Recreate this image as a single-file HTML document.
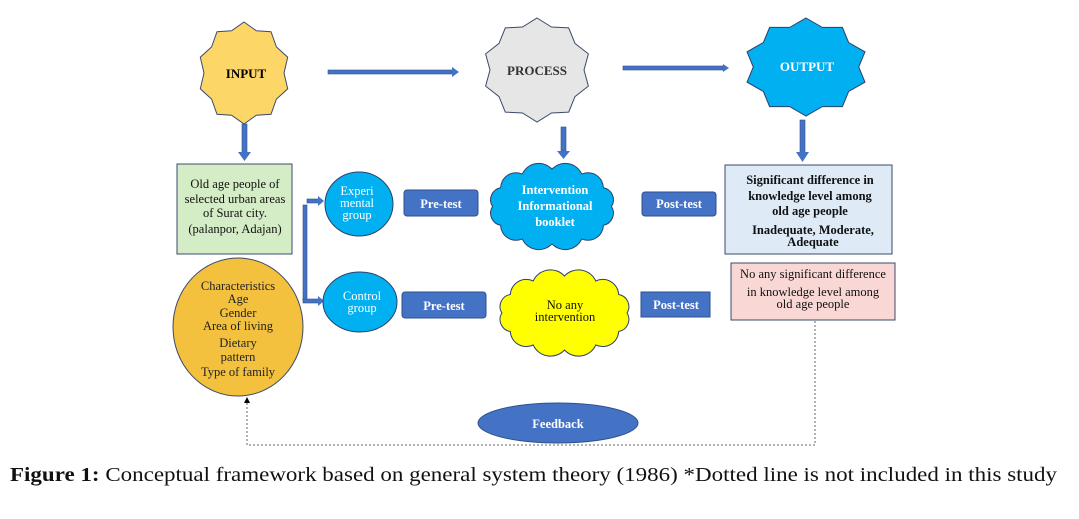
<!DOCTYPE html>
<html><head><meta charset="utf-8"><style>
body{margin:0;background:#fff;}
svg{display:block;}
text{font-family:"Liberation Serif",serif;}
</style></head><body>
<svg id="s" width="1079" height="519" viewBox="0 0 1079 519" xmlns="http://www.w3.org/2000/svg">
<defs>
<marker id="ah" markerWidth="6" markerHeight="6" refX="5" refY="3" orient="auto"><path d="M0,0 L6,3 L0,6 z" fill="#000"/></marker>
</defs>
<polygon id="st1" fill="#fdd668" stroke="#3b4a6b" stroke-width="1"/>
<polygon id="st2" fill="#e6e6e6" stroke="#3b4a6b" stroke-width="1"/>
<polygon id="st3" fill="#00b0f0" stroke="#2f3f6b" stroke-width="1"/>
<text x="246" y="78" text-anchor="middle" font-size="13" font-weight="bold">INPUT</text>
<text x="537" y="75" text-anchor="middle" font-size="13" font-weight="bold" fill="#333">PROCESS</text>
<text x="807" y="71" text-anchor="middle" font-size="13" font-weight="bold" fill="#fff">OUTPUT</text>
<rect x="328" y="70" width="124" height="4" fill="#4472c4" stroke="#2f528f" stroke-width="0.6"/>
<polygon points="452,67 459,72 452,77" fill="#4472c4"/>
<rect x="623" y="66" width="100" height="4" fill="#4472c4" stroke="#2f528f" stroke-width="0.6"/>
<polygon points="723,64 729,68 723,72" fill="#4472c4"/>
<rect x="242" y="124" width="5" height="29" fill="#4472c4" stroke="#2f528f" stroke-width="0.6"/>
<polygon points="238,152 251,152 244.5,161" fill="#4472c4"/>
<rect x="561" y="127" width="5" height="24" fill="#4472c4" stroke="#2f528f" stroke-width="0.6"/>
<polygon points="557,151 570,151 563.5,159" fill="#4472c4"/>
<rect x="800" y="120" width="5" height="33" fill="#4472c4" stroke="#2f528f" stroke-width="0.6"/>
<polygon points="796,152 809,152 802.5,162" fill="#4472c4"/>
<rect x="177" y="164" width="115" height="90" fill="#d4edc6" stroke="#3b4a6b"/>
<g font-size="12.5" text-anchor="middle" fill="#111">
<text x="235" y="188">Old age people of</text>
<text x="235" y="203">selected urban areas</text>
<text x="235" y="217">of Surat city.</text>
<text x="235" y="233">(palanpor, Adajan)</text>
</g>
<rect x="303" y="205" width="4" height="96" fill="#4472c4" stroke="#2f528f" stroke-width="0.6"/>
<rect x="307" y="199" width="12" height="4" fill="#4472c4" stroke="#2f528f" stroke-width="0.6"/>
<polygon points="318,196 324,201 318,206" fill="#4472c4"/>
<rect x="303" y="299" width="16" height="4" fill="#4472c4" stroke="#2f528f" stroke-width="0.6"/>
<polygon points="318,296 324,301 318,306" fill="#4472c4"/>
<ellipse cx="359" cy="204" rx="34" ry="32" fill="#00b0f0" stroke="#2f3f6b"/>
<g font-size="12.5" text-anchor="middle" fill="#fff">
<text x="357" y="195">Experi</text>
<text x="357" y="207">mental</text>
<text x="357" y="219">group</text>
</g>
<rect x="404" y="190" width="74" height="26" rx="3" fill="#4472c4" stroke="#2f528f"/>
<text x="441" y="208" text-anchor="middle" font-size="12.5" font-weight="bold" fill="#fff">Pre-test</text>
<path id="c1" fill="#00b0f0" stroke="#2f3f6b"/>
<g font-size="12.5" font-weight="bold" text-anchor="middle" fill="#fff">
<text x="555" y="194">Intervention</text>
<text x="555" y="210">Informational</text>
<text x="555" y="226">booklet</text>
</g>
<rect x="642" y="192" width="74" height="24" rx="3" fill="#4472c4" stroke="#2f528f"/>
<text x="679" y="208" text-anchor="middle" font-size="12.5" font-weight="bold" fill="#fff">Post-test</text>
<rect x="725" y="165" width="167" height="89" fill="#deebf7" stroke="#3b4a6b"/>
<g font-size="12.5" font-weight="bold" text-anchor="middle" fill="#111">
<text x="810" y="184">Significant difference in</text>
<text x="810" y="200">knowledge level among</text>
<text x="810" y="215">old age people</text>
<text x="813" y="234">Inadequate, Moderate,</text>
<text x="813" y="246">Adequate</text>
</g>
<ellipse cx="360" cy="302" rx="37" ry="30" fill="#00b0f0" stroke="#2f3f6b"/>
<g font-size="12.5" text-anchor="middle" fill="#fff">
<text x="362" y="300">Control</text>
<text x="362" y="312">group</text>
</g>
<rect x="402" y="292" width="84" height="26" rx="3" fill="#4472c4" stroke="#2f528f"/>
<text x="444" y="310" text-anchor="middle" font-size="12.5" font-weight="bold" fill="#fff">Pre-test</text>
<path id="c2" fill="#ffff00" stroke="#2f3f6b"/>
<g font-size="12.5" text-anchor="middle" fill="#111">
<text x="565" y="309">No any</text>
<text x="565" y="321">intervention</text>
</g>
<rect x="641" y="292" width="69" height="25" fill="#4472c4" stroke="#2f528f"/>
<text x="676" y="309" text-anchor="middle" font-size="12.5" font-weight="bold" fill="#fff">Post-test</text>
<rect x="731" y="263" width="164" height="57" fill="#f8d7d5" stroke="#3b4a6b"/>
<g font-size="12.5" text-anchor="middle" fill="#111">
<text x="813" y="278">No any significant difference</text>
<text x="813" y="296">in knowledge level among</text>
<text x="813" y="308">old age people</text>
</g>
<ellipse cx="238" cy="327" rx="65" ry="69" fill="#f4c13e" stroke="#3b4a6b"/>
<g font-size="12.5" text-anchor="middle" fill="#222">
<text x="238" y="290">Characteristics</text>
<text x="238" y="303">Age</text>
<text x="238" y="317">Gender</text>
<text x="238" y="330">Area of living</text>
<text x="238" y="347">Dietary</text>
<text x="238" y="361">pattern</text>
<text x="238" y="376">Type of family</text>
</g>
<ellipse cx="558" cy="423" rx="80" ry="20" fill="#4472c4" stroke="#2f528f"/>
<text x="558" y="428" text-anchor="middle" font-size="12.5" font-weight="bold" fill="#fff">Feedback</text>
<polyline points="815,321 815,445 247,445 247,398" fill="none" stroke="#666" stroke-width="1" stroke-dasharray="2,2" marker-end="url(#ah)"/>
<text x="10" y="481" font-size="20" fill="#111" textLength="1047" lengthAdjust="spacingAndGlyphs"><tspan font-weight="bold">Figure 1:</tspan> Conceptual framework based on general system theory (1986) *Dotted line is not included in this study</text>
</svg>
<script>
function star(id,cx,cy,rx,ry,n,k){var p=[];for(var i=0;i<2*n;i++){var a=Math.PI*i/n-Math.PI/2;var f=i%2?k:1;p.push((cx+rx*f*Math.cos(a)).toFixed(1)+','+(cy+ry*f*Math.sin(a)).toFixed(1));}document.getElementById(id).setAttribute('points',p.join(' '));}
star('st1',244,73,46,51,10,0.87);
star('st2',537,70,54,52,10,0.87);
star('st3',806,67,62,49,10,0.85);
function cloud(id,x0,y0,x1,y1,n){var cx=(x0+x1)/2,cy=(y0+y1)/2,rx=(x1-x0)/2*0.9,ry=(y1-y0)/2*0.86;var pts=[];for(var i=0;i<n;i++){var a=2*Math.PI*i/n;pts.push([cx+rx*Math.cos(a),cy+ry*Math.sin(a)]);}var d='M'+pts[0][0].toFixed(1)+','+pts[0][1].toFixed(1);for(var i=0;i<n;i++){var q=pts[(i+1)%n];var r=Math.hypot(q[0]-pts[i][0],q[1]-pts[i][1])*0.6;d+=' A'+r.toFixed(1)+','+r.toFixed(1)+' 0 0 1 '+q[0].toFixed(1)+','+q[1].toFixed(1);}document.getElementById(id).setAttribute('d',d+'Z');}
cloud('c1',486,163,618,250,12);
cloud('c2',495,270,634,356,12);
</script>
</body></html>
